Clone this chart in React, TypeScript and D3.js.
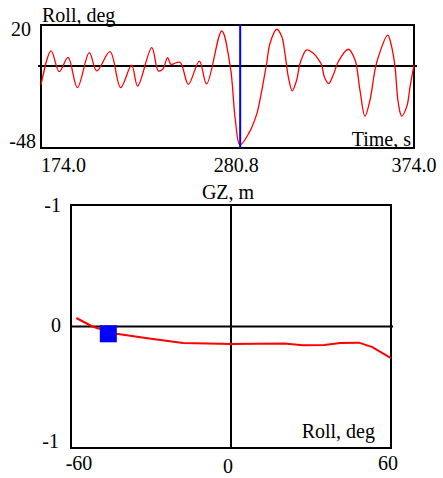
import React from 'react';
import * as d3 from 'd3';

// roll history (time, s / roll, deg)
const rollTime = [
  174.0, 179.4, 183.8, 188.5, 193.5, 199.9, 203.9, 211.0, 216.7, 222.6,
  225.8, 233.4, 236.9, 239.3, 241.9, 243.7, 248.5, 253.0, 258.9, 262.8,
  270.9, 275.5, 278.2, 280.7, 285.4, 289.8, 291.4, 295.0, 296.8, 300.4,
  303.1, 304.8, 306.6, 308.7, 311.1, 312.9, 316.5, 320.0, 322.7, 324.5,
  325.9, 328.2, 330.7, 333.4, 338.8, 342.4, 345.0, 347.7, 350.4, 353.1,
  354.9, 359.9, 362.0, 363.8, 365.6, 367.4, 370.1, 371.9, 374.0,
];
const rollValue = [
  -11.1, 8.8, -3.3, 5.1, -12.7, 7.8, -2.9, 8.4, -12.7, 0.5,
  -11.7, 10.7, -2.9, -1.9, 4.9, 1.0, 2.2, -10.7, 2.9, -10.5,
  20.5, -0.4, -31.6, -46.2, -39.4, -27.7, -19.9, 1.6, 13.3, 21.5,
  17.2, 7.4, -6.3, -14.5, -8.2, 1.6, 9.4, 7.4, 3.9, 0.6,
  -6.3, -10.3, -5.3, 2.5, 9.8, 3.5, -14.0, -29.3, -19.9, -2.3,
  5.4, 18.1, 11.3, -0.4, -21.8, -29.3, -23.8, -12.1, 0.6,
];
const cursorTime = 280.8;
const timeTicks = ['174.0', '280.8', '374.0'];

// GZ curve (roll, deg / GZ, m)
const gzRoll = [-58, -52, -49, -43, -30, -18, 0, 20, 27, 35, 41, 48, 53, 60];
const gzValue = [-0.07, 0.0, 0.02, 0.06, 0.1, 0.135, 0.145, 0.14, 0.155, 0.152, 0.136, 0.133, 0.17, 0.26];
const markerRoll = -46;
const markerGz = 0.06;

const FONT = '"Liberation Serif", "Times New Roman", serif';

export default function App() {
  // top panel
  const x1 = d3.scaleLinear().domain([174, 374]).range([41, 414]);
  const y1 = d3.scaleLinear().domain([-48, 24]).range([148, 25]);
  const rollLine = d3.line<number>()
    .x((_, i) => x1(rollTime[i]))
    .y(d => y1(d))
    .curve(d3.curveCatmullRom.alpha(0.5));

  // bottom panel
  const x2 = d3.scaleLinear().domain([-60, 60]).range([71, 391]);
  const y2 = d3.scaleLinear().domain([-1, 1]).range([205, 448]);
  const gzLine = d3.line<number>()
    .x((_, i) => x2(gzRoll[i]))
    .y(d => y2(d));

  const txt = { fontFamily: FONT, fontSize: 20, fill: '#000' };
  const msz = 17;

  return (
    <svg width={443} height={478} style={{ position: 'absolute', left: 0, top: 0, background: '#fff' }}>
      {/* ── Roll vs time ── */}
      <rect x={x1(174)} y={y1(24)} width={x1(374) - x1(174)} height={y1(-48) - y1(24)}
        fill="none" stroke="#000" strokeWidth={2} />
      <line x1={x1(174) - 3} x2={x1(374) + 3} y1={y1(0)} y2={y1(0)} stroke="#000" strokeWidth={2} />
      <path d={rollLine(rollValue) || ''} fill="none" stroke="#ff0000" strokeWidth={1.3} />
      <line x1={x1(cursorTime)} x2={x1(cursorTime)} y1={y1(24) - 1} y2={y1(-48)} stroke="#0000ff" strokeWidth={2} />

      <text {...txt} x={42} y={22}>Roll, deg</text>
      <text {...txt} x={31} y={36} textAnchor="end">20</text>
      <text {...txt} x={36} y={148} textAnchor="end">-48</text>
      <text {...txt} x={411} y={146} textAnchor="end">Time, s</text>
      <text {...txt} x={x1(174)} y={172}>{timeTicks[0]}</text>
      <text {...txt} x={x1(cursorTime) - 4} y={172} textAnchor="middle">{timeTicks[1]}</text>
      <text {...txt} x={x1(374)} y={172} textAnchor="middle">{timeTicks[2]}</text>

      {/* ── GZ curve ── */}
      <rect x={x2(-60)} y={y2(-1)} width={x2(60) - x2(-60)} height={y2(1) - y2(-1)}
        fill="none" stroke="#000" strokeWidth={2} />
      <line x1={x2(-60)} x2={x2(60) + 2} y1={y2(0)} y2={y2(0)} stroke="#000" strokeWidth={2} />
      <line x1={x2(0)} x2={x2(0)} y1={y2(-1)} y2={y2(1)} stroke="#000" strokeWidth={2} />
      <path d={gzLine(gzValue) || ''} fill="none" stroke="#ff0000" strokeWidth={2} />
      <rect x={x2(markerRoll) - msz / 2} y={y2(markerGz) - msz / 2} width={msz} height={msz} fill="#0000ff" />

      <text {...txt} x={x2(0) - 3} y={199} textAnchor="middle">GZ, m</text>
      <text {...txt} x={61} y={212} textAnchor="end">-1</text>
      <text {...txt} x={61} y={332} textAnchor="end">0</text>
      <text {...txt} x={59} y={448} textAnchor="end">-1</text>
      <text {...txt} x={375} y={438} textAnchor="end">Roll, deg</text>
      <text {...txt} x={79} y={470} textAnchor="middle">-60</text>
      <text {...txt} x={x2(0) - 3} y={473} textAnchor="middle">0</text>
      <text {...txt} x={388} y={470} textAnchor="middle">60</text>
    </svg>
  );
}
